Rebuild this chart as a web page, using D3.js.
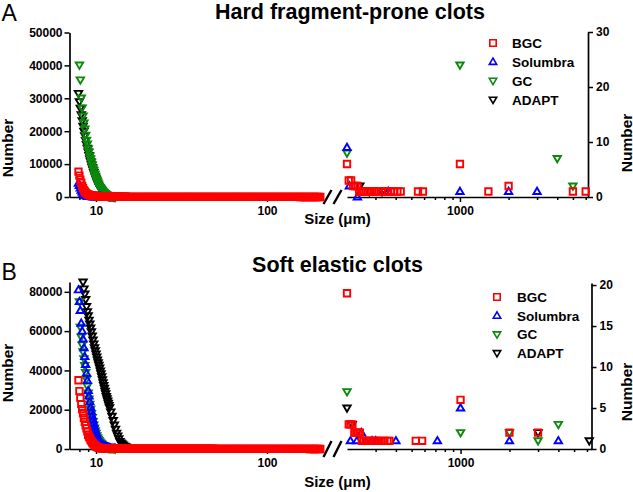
<!DOCTYPE html>
<html>
<head>
<meta charset="utf-8">
<script src="https://cdn.jsdelivr.net/npm/d3@7"></script>
<style>
  body { margin: 0; background: #fff; }
  text { font-family: "Liberation Sans", Arial, sans-serif; font-weight: bold; fill: #000; }
</style>
</head>
<body>
<div id="chart"></div>
<script>
var svgWidth = 633;
var svgHeight = 492;

// ---- data ----
var seriesNames = ["BGC", "Solumbra", "GC", "ADAPT"];

// fine size bins (um) for the small-particle part of each plot
var binsFine = [7.8, 7.9, 8.0, 8.1, 8.2, 8.3, 8.4, 8.5, 8.6, 8.7,
  8.8, 8.9, 9.0, 9.1, 9.2, 9.3, 9.4, 9.5, 9.6, 9.7,
  9.8, 9.9, 10.0, 10.1, 10.2, 10.3, 10.4, 10.5, 10.6, 10.7,
  10.8, 10.9, 11.0, 11.1, 11.2, 11.3, 11.4, 11.5, 11.6, 11.7,
  11.8, 11.9, 12.0, 12.2, 12.4, 12.6, 12.8, 13.0, 13.2, 13.4,
  13.6, 13.8, 14.0, 14.2, 14.4, 14.6, 14.8, 15.0];

// bins for the flat tail up to 200 um
var binsTail = [15.3, 15.7, 16.1, 16.5, 16.9, 17.3, 17.7, 18.2, 18.6, 19.1,
  19.6, 20.1, 20.6, 21.1, 21.6, 22.1, 22.7, 23.3, 23.8, 24.4,
  25.0, 25.7, 26.3, 27.0, 27.7, 28.3, 29.1, 29.8, 30.5, 31.3,
  32.1, 32.9, 33.7, 34.5, 35.4, 36.3, 37.2, 38.1, 39.1, 40.1,
  41.1, 42.1, 43.1, 44.2, 45.3, 46.5, 47.6, 48.8, 50.0, 51.3,
  52.6, 53.9, 55.2, 56.6, 58.0, 59.5, 61.0, 62.5, 64.1, 65.7,
  67.3, 69.0, 70.7, 72.5, 74.3, 76.2, 78.1, 80.0, 82.0, 84.1,
  86.2, 88.3, 90.5, 92.8, 95.1, 97.5, 100, 102, 105, 108,
  110, 113, 116, 119, 122, 125, 128, 131, 135, 138,
  141, 145, 149, 152, 156, 160, 164, 168, 172, 177,
  181, 186, 190, 195, 200, 205];

// A: hard fragment-prone clots, counts per fine bin
var hardBGC = [null, 7700, 6500, 5300, 4300, 3400, 2700, 2100, 1700, 1350,
  1100, 900, 760, 650, 560, 500, 450, 410, 380, 350,
  330, 310, 290, 280, 270, 260, 250, 240, 230, 220,
  210, 200, 195, 190, 185, 180, 175, 170, 165, 160,
  155, 150, 145, 140, 135, 130, 125, 120, 115, 110,
  105, 100, 95, 90, 85, 80, 75, 70];
var hardSolumbra = [null, 4200, 3500, 2700, 2000, 1500, 1100, 800, 600, 450,
  330, 250, 200, 160, 130, 110, 100, 90, 80, 75,
  70, 65, 60, 55, 50, 50, 45, 45, 40, 40];
var hardGC = [null, null, 40100, 35600, 30100, 27100, 24600, 22500, 20700, 18800,
  17300, 16100, 14600, 13700, 12500, 11600, 10600, 9700, 8800, 8000,
  7000, 6400, 5800, 5200, 4600, 4000, 3300, 3000, 2700, 2400,
  2100, 1800, 1500, 1300, 1100, 930, 760, 640, 520, 410,
  300, 250, 210, 170, 130, 100, 80, 60];
var hardADAPT = [null, 31500, 29000, 27000, 25000, 23200, 21500, 20000, 18600, 17200,
  16000, 14800, 13700, 12600, 11600, 10700, 9800, 9000, 8200, 7500,
  6800, 6100, 5500, 4900, 4300, 3800, 3300, 2900, 2500, 2200,
  1900, 1600, 1400, 1200, 1000, 850, 700, 570, 450, 370,
  300, 250, 200, 150, 110, 80, 60, 40];
var hardBGCTail = [65, 64, 62, 62, 61, 59, 58, 58, 57, 55,
  55, 54, 52, 52, 51, 50, 48, 48, 47, 46,
  45, 44, 43, 42, 41, 40, 40, 39, 38, 37,
  36, 35, 35, 34, 33, 32, 32, 31, 30, 30,
  29, 28, 28, 27, 27, 26, 25, 25, 24, 24,
  23, 23, 22, 22, 21, 21, 20, 20, 19, 19,
  18, 18, 17, 17, 16, 16, 16, 15, 15, 15,
  14, 14, 14, 13, 13, 13, 12, 12, 12, 11,
  11, 11, 10, 10, 10, 10, 9, 9, 9, 9,
  8, 8, 8, 8, 7, 7, 7, 7, 6, 6,
  6, 6, 5, 5, 5, 5];

// A: large fragments (right axis)
var hardBGCBigSize = [200, 205, 212, 218, 225, 232, 238, 245, 252, 260, 268, 276, 285, 295, 305,
  315, 330, 345, 360, 375, 390, 410, 430, 550, 590, 1000, 1500, 2000, 5000, 6000];
var hardBGCBigCount = [6, 3, 3, 2, 2, 2, 1, 1, 1, 1, 1, 1, 1, 1, 1,
  1, 1, 1, 1, 1, 1, 1, 1, 1, 1, 6, 1, 2, 1, 1];
var hardSolumbraBigSize = [200, 207, 232, 360, 1000, 2000, 3000];
var hardSolumbraBigCount = [9, 2, 0, 1, 1, 1, 1];
var hardGCBigSize = [200, 1000, 4000, 5000];
var hardGCBigCount = [8, 24, 7, 2];
var hardADAPTBigSize = [240, 275, 330];
var hardADAPTBigCount = [2, 1, 1];

// B: soft elastic clots, counts per fine bin
var softBGC = [null, 35000, 29500, 26000, 22800, 20300, 18200, 15800, 13800, 12100,
  10500, 9000, 7200, 6300, 5500, 4700, 4000, 3400, 2900, 2400,
  2000, 1700, 1400, 1150, 950, 800, 650, 550, 470, 420,
  380, 350, 330, 320, 310, 300, 300, 290, 290, 280,
  280, 270, 270, 260, 260, 250, 250, 250, 240, 240,
  240, 230, 230, 230, 220, 220, 220, 210];
var softSolumbra = [null, 81000, 75000, 70500, 64000, 60000, 56000, 51500, 47000, 43000,
  38500, 34800, 29700, 26900, 24000, 21200, 19000, 16800, 14800, 13000,
  11300, 9800, 8400, 7100, 6100, 5200, 4500, 3900, 3400, 3000,
  2600, 2200, 1900, 1700, 1500, 1300, 1100, 950, 850, 750,
  660, 580, 500, 420, 350, 300, 250, 200];
var softGC = [null, null, 75000, 62000, 57000, 53000, 49500, 46000, 42500, 39000,
  35500, 32000, 28500, 25500, 22800, 20300, 18000, 16000, 14000, 12300,
  10700, 9300, 8000, 6800, 5800, 5000, 4300, 3700, 3200, 2800,
  2400, 2000, 1700, 1500, 1300, 1150, 1000, 870, 750, 650,
  550, 470, 400, 330, 270, 220, 180, 150];
var softADAPT = [null, null, null, null, null, null, 85000, 81500, 78900, 76100,
  72500, 69900, 67800, 65600, 63600, 61600, 59700, 57500, 55500, 53500,
  51600, 50000, 48400, 46900, 45300, 43900, 42600, 41200, 39700, 38300,
  36800, 35300, 33800, 32300, 30900, 29400, 28100, 26700, 25600, 24500,
  23300, 22200, 21000, 18900, 16700, 14500, 12200, 10100, 8100, 6700,
  5200, 3800, 3100, 2600, 2100, 1600, 1200, 1000];
var softBGCTail = [210, 208, 205, 204, 202, 199, 198, 196, 193, 192,
  190, 188, 185, 184, 182, 180, 178, 175, 174, 172,
  170, 168, 165, 164, 162, 160, 158, 155, 154, 152,
  150, 148, 145, 144, 142, 140, 138, 135, 134, 132,
  130, 128, 125, 124, 122, 120, 118, 115, 114, 112,
  110, 108, 105, 104, 102, 100, 98, 95, 94, 92,
  90, 88, 85, 84, 82, 80, 78, 75, 74, 72,
  70, 68, 65, 64, 62, 60, 58, 55, 54, 52,
  50, 48, 45, 44, 42, 40, 38, 35, 34, 32,
  30, 28, 25, 24, 22, 20, 18, 15, 14, 12,
  10, 9, 8, 7, 6, 5];

// B: large fragments (right axis)
var softBGCBigSize = [200, 205, 210, 216, 222, 228, 234, 240, 247, 254, 262, 270, 278, 287, 296,
  305, 315, 325, 340, 355, 365, 530, 580, 1000, 2000, 3000];
var softBGCBigCount = [19, 3, 3, 3, 2, 2, 2, 2, 1, 1, 1, 1, 1, 1, 1,
  1, 1, 1, 1, 1, 1, 1, 1, 6, 2, 2];
var softSolumbraBigSize = [210, 230, 245, 260, 285, 300, 400, 720, 1000, 2000, 4000];
var softSolumbraBigCount = [1, 1, 2, 1, 1, 1, 1, 1, 5, 1, 1];
var softGCBigSize = [200, 1000, 2000, 3000, 4000];
var softGCBigCount = [7, 2, 2, 1, 3];
var softADAPTBigSize = [200, 215, 3000, 6200];
var softADAPTBigCount = [5, 3, 2, 1];

// ---- styles ----
var colors = { BGC: "#ff0000", Solumbra: "#0000ff", GC: "#0a8a0a", ADAPT: "#000000" };
var shapes = { BGC: "square", Solumbra: "up", GC: "down", ADAPT: "down" };
var markerPaths = {
  square: "M-3.2,-3.2H3.2V3.2H-3.2Z",
  up: "M0,-3.8L3.7,2.5H-3.7Z",
  down: "M0,3.8L3.7,-2.5H-3.7Z"
};
var drawOrder = ["ADAPT", "GC", "Solumbra", "BGC"];

var panels = [
  {
    letter: "A", letterY: 21, title: "Hard fragment-prone clots", titleX: 350, titleY: 19,
    y0: 197, yTopL: 32.5, yMaxL: 50000, ticksL: [0, 10000, 20000, 30000, 40000, 50000],
    yTopR: 32, yMaxR: 30, ticksR: [0, 10, 20, 30],
    xRightEnd: 588, xRightMax: 6200, sizeLabelY: 224, numberLY: 148, numberRY: 143,
    legendX: 493, legendTextX: 512, legendY: 43, legendStep: 18.9, breakH: 14,
    fine: { BGC: hardBGC, Solumbra: hardSolumbra, GC: hardGC, ADAPT: hardADAPT },
    tail: hardBGCTail,
    bigSize: { BGC: hardBGCBigSize, Solumbra: hardSolumbraBigSize, GC: hardGCBigSize, ADAPT: hardADAPTBigSize },
    bigCount: { BGC: hardBGCBigCount, Solumbra: hardSolumbraBigCount, GC: hardGCBigCount, ADAPT: hardADAPTBigCount }
  },
  {
    letter: "B", letterY: 280, title: "Soft elastic clots", titleX: 337.5, titleY: 272,
    y0: 449, yTopL: 282, yMaxL: 85000, ticksL: [0, 20000, 40000, 60000, 80000],
    yTopR: 283, yMaxR: 20.25, ticksR: [0, 5, 10, 15, 20],
    xRightEnd: 591.5, xRightMax: 6400, sizeLabelY: 487, numberLY: 373, numberRY: 392,
    legendX: 497, legendTextX: 517, legendY: 297, legendStep: 18.7, breakH: 16,
    fine: { BGC: softBGC, Solumbra: softSolumbra, GC: softGC, ADAPT: softADAPT },
    tail: softBGCTail,
    bigSize: { BGC: softBGCBigSize, Solumbra: softSolumbraBigSize, GC: softGCBigSize, ADAPT: softADAPTBigSize },
    bigCount: { BGC: softBGCBigCount, Solumbra: softSolumbraBigCount, GC: softGCBigCount, ADAPT: softADAPTBigCount }
  }
];

var svg = d3.select("#chart")
  .append("svg")
  .attr("width", svgWidth)
  .attr("height", svgHeight);

svg.append("rect").attr("width", svgWidth).attr("height", svgHeight).attr("fill", "#fff");

function styleAxis(g) {
  g.attr("font-size", null).attr("font-family", null);
  g.selectAll("path.domain").attr("stroke", "#000").attr("stroke-width", 1.7);
  g.selectAll(".tick line").attr("stroke", "#000").attr("stroke-width", 1.5);
  g.selectAll(".tick text").style("font-size", "12px").attr("fill", "#000");
}

// dense piles of hollow markers read as a solid band, so the tail is filled
function drawMarkers(g, points, name, xs, ys, solid) {
  g.selectAll(null)
    .data(points)
    .enter()
    .append("path")
    .attr("transform", d => `translate(${xs(d.size)},${ys(d.count)})`)
    .attr("d", markerPaths[shapes[name]])
    .attr("fill", solid ? colors[name] : "none")
    .attr("stroke", colors[name])
    .attr("stroke-width", 1.9);
}

panels.forEach(function (p) {
  var g = svg.append("g");

  // scales
  var xLeft = d3.scaleLog().domain([7, 210]).range([69.5, 322.1]);
  var xRight = d3.scaleLog().domain([200, p.xRightMax]).range([347, p.xRightEnd]);
  var yLeft = d3.scaleLinear().domain([0, p.yMaxL]).range([p.y0, p.yTopL]);
  var yRight = d3.scaleLinear().domain([0, p.yMaxR]).range([p.y0, p.yTopR]);

  // left y axis
  g.append("g")
    .attr("transform", "translate(69.5,0)")
    .call(d3.axisLeft(yLeft).tickValues(p.ticksL).tickFormat(d3.format("d"))
      .tickSize(5).tickSizeOuter(0).tickPadding(2))
    .call(styleAxis);

  // right y axis
  g.append("g")
    .attr("transform", `translate(${p.xRightEnd},0)`)
    .call(d3.axisRight(yRight).tickValues(p.ticksR).tickFormat(d3.format("d"))
      .tickSize(5).tickSizeOuter(0).tickPadding(3))
    .call(styleAxis);

  // x axis, small sizes
  var axL = g.append("g")
    .attr("transform", `translate(0,${p.y0})`)
    .call(d3.axisBottom(xLeft).tickValues([8, 9, 10, 100])
      .tickFormat(d => (d === 10 || d === 100) ? d : "")
      .tickSize(5).tickSizeOuter(0).tickPadding(4))
    .call(styleAxis);
  axL.selectAll(".tick line").attr("y2", d => (d === 10 || d === 100) ? 5 : 3);

  // x axis, large sizes
  var rightTicks = [300, 400, 500, 600, 700, 800, 900, 1000, 2000, 3000, 4000, 5000, 6000];
  var axR = g.append("g")
    .attr("transform", `translate(0,${p.y0})`)
    .call(d3.axisBottom(xRight).tickValues(rightTicks)
      .tickFormat(d => d === 1000 ? d : "")
      .tickSize(5).tickSizeOuter(0).tickPadding(4))
    .call(styleAxis);
  axR.selectAll(".tick line").attr("y2", d => d === 1000 ? 5 : 3);

  // axis break marks
  [323.5, 333.5].forEach(function (bx) {
    g.append("line")
      .attr("x1", bx).attr("y1", p.y0 + p.breakH / 2)
      .attr("x2", bx + 8).attr("y2", p.y0 - p.breakH / 2)
      .attr("stroke", "#000").attr("stroke-width", 2.4);
  });

  // points
  drawOrder.forEach(function (name) {
    var fine = [];
    p.fine[name].forEach(function (v, i) {
      if (v !== null && v !== undefined) fine.push({ size: binsFine[i], count: v });
    });
    drawMarkers(g, fine, name, xLeft, yLeft, false);
    if (name === "BGC") {
      var tail = p.tail.map((v, i) => ({ size: binsTail[i], count: v }));
      drawMarkers(g, tail, name, xLeft, yLeft, true);
    }

    var big = p.bigSize[name].map((s, i) => ({ size: s, count: p.bigCount[name][i] }));
    drawMarkers(g, big, name, xRight, yRight, false);
  });

  // legend
  seriesNames.forEach(function (name, i) {
    var ly = p.legendY + i * p.legendStep;
    g.append("path")
      .attr("transform", `translate(${p.legendX},${ly})`)
      .attr("d", markerPaths[shapes[name]])
      .attr("fill", "none")
      .attr("stroke", colors[name])
      .attr("stroke-width", 1.6);
    g.append("text")
      .attr("x", p.legendTextX)
      .attr("y", ly + 4.8)
      .style("font-size", "13.5px")
      .text(name);
  });

  // labels
  g.append("text")
    .attr("x", 1.5).attr("y", p.letterY)
    .style("font-size", "23px").style("font-weight", "normal")
    .text(p.letter);

  g.append("text")
    .attr("x", p.titleX).attr("y", p.titleY)
    .attr("text-anchor", "middle")
    .style("font-size", "21.5px")
    .text(p.title);

  g.append("text")
    .attr("x", 337.5).attr("y", p.sizeLabelY)
    .attr("text-anchor", "middle")
    .style("font-size", "15px")
    .text("Size (\u03bcm)");

  g.append("text")
    .attr("transform", `translate(13.3,${p.numberLY}) rotate(-90)`)
    .attr("text-anchor", "middle")
    .style("font-size", "15.5px")
    .text("Number");

  g.append("text")
    .attr("transform", `translate(631.5,${p.numberRY}) rotate(-90)`)
    .attr("text-anchor", "middle")
    .style("font-size", "15.5px")
    .text("Number");
});
</script>
</body>
</html>
